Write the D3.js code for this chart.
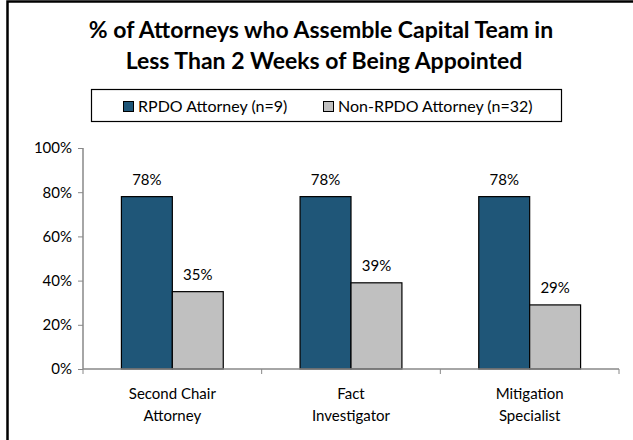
<!DOCTYPE html>
<html>
<head>
<meta charset="utf-8">
<script src="https://cdn.jsdelivr.net/npm/d3@7"></script>
<style>
  body { margin: 0; background: #fff; }
  svg { display: block; font-family: Lato, "Open Sans", sans-serif; }
</style>
</head>
<body>
<div id="wrapper"></div>
<script>
// data
const categories = [["Second Chair", "Attorney"], ["Fact", "Investigator"], ["Mitigation", "Specialist"]];
const seriesNames = ["RPDO Attorney (n=9)", "Non-RPDO Attorney (n=32)"];
const rpdoValues = [78, 78, 78];
const nonRpdoValues = [35, 39, 29];
const yTicks = [0, 20, 40, 60, 80, 100];

function drawChart() {
    const width = 633;
    const height = 440;
    const dms = {
        width,
        height,
        margins: { top: 148, right: 14, bottom: 71, left: 83 }
    };
    dms.innerWidth = dms.width - dms.margins.left - dms.margins.right;
    dms.innerHeight = dms.height - dms.margins.top - dms.margins.bottom;

    const colors = ["#1f5678", "#c0c0c0"];

    const wrapper = d3.select("#wrapper")
        .append("svg")
            .attr("width", dms.width)
            .attr("height", dms.height);

    // outer frame (right/bottom edges sit outside the picture)
    wrapper.append("rect")
        .attr("x", 7.5)
        .attr("y", 1.5)
        .attr("width", 640)
        .attr("height", 450)
        .attr("fill", "none")
        .attr("stroke", "#000")
        .attr("stroke-width", 2.5);

    // title
    const title = wrapper.append("text")
        .attr("text-anchor", "middle")
        .style("font-size", "23px")
        .style("font-weight", "bold")
        .attr("fill", "#000");
    title.append("tspan").attr("x", 321).attr("y", 38).text("% of Attorneys who Assemble Capital Team in");
    title.append("tspan").attr("x", 324).attr("y", 69).text("Less Than 2 Weeks of Being Appointed");

    // legend
    const legend = wrapper.append("g");
    legend.append("rect")
        .attr("x", 91.5)
        .attr("y", 89.5)
        .attr("width", 470)
        .attr("height", 32)
        .attr("fill", "#fff")
        .attr("stroke", "#000")
        .attr("stroke-width", 1.2);

    const legendX = [123, 323];
    const legendItems = legend.selectAll("g.item")
        .data(seriesNames)
        .join("g")
            .attr("class", "item")
            .attr("transform", (d, i) => `translate(${legendX[i]}, 106)`);
    legendItems.append("rect")
        .attr("x", 0.5)
        .attr("y", -4.5)
        .attr("width", 10)
        .attr("height", 10)
        .attr("fill", (d, i) => colors[i])
        .attr("stroke", "#000")
        .attr("stroke-width", 1);
    legendItems.append("text")
        .attr("x", 15)
        .attr("y", 6)
        .style("font-size", "16px")
        .attr("fill", "#000")
        .text(d => d);

    const inner = wrapper.append("g")
        .attr("transform", `translate(${dms.margins.left}, ${dms.margins.top})`);

    // scales
    const xScale = d3.scaleBand()
        .domain(d3.range(categories.length))
        .range([0, dms.innerWidth])
        .paddingInner(0)
        .paddingOuter(0);

    const groupWidth = xScale.bandwidth() * 0.57;
    const xSub = d3.scaleBand()
        .domain([0, 1])
        .range([0, groupWidth]);

    const yScale = d3.scaleLinear()
        .domain([0, 100])
        .range([dms.innerHeight, 0]);

    // bars
    const rows = categories.map((c, i) => ({ i, values: [rpdoValues[i], nonRpdoValues[i]] }));
    const groups = inner.selectAll("g.group")
        .data(rows)
        .join("g")
            .attr("class", "group")
            .attr("transform", d => `translate(${xScale(d.i) + (xScale.bandwidth() - groupWidth) / 2}, 0)`);

    groups.selectAll("rect")
        .data(d => d.values.map((v, s) => ({ v, s })))
        .join("rect")
            .attr("x", d => xSub(d.s))
            .attr("y", d => yScale(d.v))
            .attr("width", xSub.bandwidth())
            .attr("height", d => dms.innerHeight - yScale(d.v))
            .attr("fill", d => colors[d.s])
            .attr("stroke", "#000")
            .attr("stroke-width", 1.2);

    groups.selectAll("text.val")
        .data(d => d.values.map((v, s) => ({ v, s })))
        .join("text")
            .attr("class", "val")
            .attr("x", d => xSub(d.s) + xSub.bandwidth() / 2)
            .attr("y", d => yScale(d.v) - 12)
            .attr("text-anchor", "middle")
            .style("font-size", "15px")
            .attr("fill", "#000")
            .text(d => d.v + "%");

    // axes
    const yAxis = inner.append("g")
        .call(d3.axisLeft(yScale).tickValues(yTicks).tickSize(5).tickPadding(6).tickFormat(d => d + "%"));
    yAxis.select(".domain").attr("stroke", "#888").attr("stroke-width", 1.5).attr("d", `M0,${dms.innerHeight}V0`);
    yAxis.selectAll(".tick line").attr("stroke", "#888");
    yAxis.selectAll(".tick text")
        .style("font-size", "15px")
        .style("font-family", "Lato, sans-serif")
        .attr("fill", "#000");

    const xAxis = inner.append("g")
        .attr("transform", `translate(0, ${dms.innerHeight})`);
    xAxis.append("line")
        .attr("x1", 0)
        .attr("x2", dms.innerWidth)
        .attr("stroke", "#888")
        .attr("stroke-width", 1.5);
    xAxis.selectAll("line.tick")
        .data(d3.range(categories.length + 1))
        .join("line")
            .attr("class", "tick")
            .attr("x1", d => d * xScale.step())
            .attr("x2", d => d * xScale.step())
            .attr("y1", 0)
            .attr("y2", 5)
            .attr("stroke", "#888");

    const xLabels = xAxis.selectAll("text")
        .data(categories)
        .join("text")
            .attr("text-anchor", "middle")
            .style("font-size", "15px")
            .attr("fill", "#000");
    xLabels.each(function(d, i) {
        const t = d3.select(this);
        d.forEach((line, j) => {
            t.append("tspan")
                .attr("x", xScale(i) + xScale.bandwidth() / 2)
                .attr("y", 30 + j * 22)
                .text(line);
        });
    });
}

drawChart();
</script>
</body>
</html>
